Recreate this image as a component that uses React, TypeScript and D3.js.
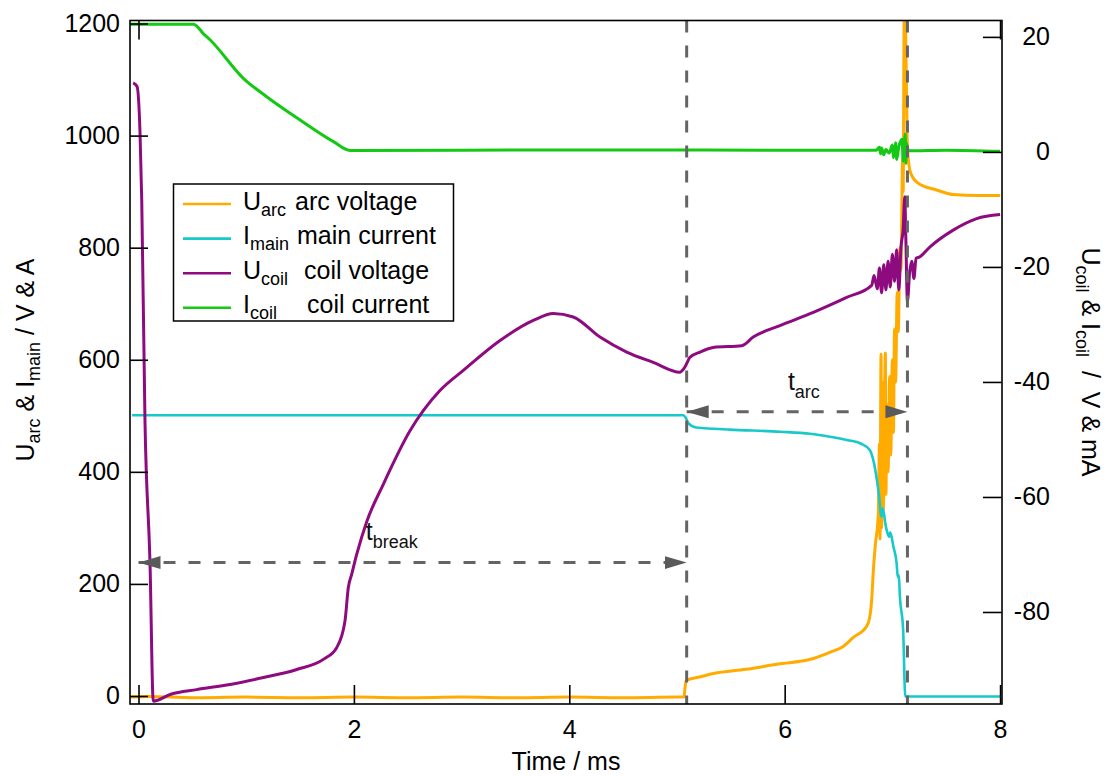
import * as d3 from "d3";
import { useEffect, useRef } from "react";

type Pt = [number, number];

// axis ranges and ticks
const timeDomain: [number, number] = [-0.079, 8.018];
const leftDomain: [number, number] = [-14.3, 1205.4];
const rightDomain: [number, number] = [-96.0, 22.85];
const timeTicks = [0, 2, 4, 6, 8];
const topTicks = [0, 8];
const leftTicks = [0, 200, 400, 600, 800, 1000, 1200];
const rightTicks = [20, 0, -20, -40, -60, -80];

// U_arc arc voltage / V (left axis)
const uArc: Pt[] = [
  [-0.07, -2], [0.1, -1], [0.5, -3], [1.0, -2], [1.5, -3], [2.0, -2], [2.5, -3],
  [3.0, -2], [3.5, -3], [4.0, -2], [4.5, -3], [5.0, -2], [5.065, -2], [5.075, 15],
  [5.085, 27], [5.1, 29], [5.21, 34], [5.34, 40], [5.64, 47.6], [5.94, 57],
  [6.24, 65.5], [6.42, 78], [6.54, 88], [6.64, 105], [6.76, 124], [6.79, 141],
  [6.81, 177], [6.82, 213], [6.84, 266], [6.87, 326], [6.88, 450], [6.885, 280],
  [6.895, 610], [6.9, 300], [6.91, 560], [6.915, 330], [6.935, 612], [6.94, 360],
  [6.95, 520], [6.96, 400], [6.975, 570], [6.985, 430], [7.0, 600], [7.01, 470],
  [7.02, 655], [7.03, 560], [7.045, 720], [7.055, 650], [7.07, 800], [7.08, 760],
  [7.095, 960], [7.1, 900], [7.11, 1210], [7.12, 1210], [7.13, 1100], [7.14, 975],
  [7.17, 933], [7.24, 915], [7.41, 903], [7.56, 895], [7.8, 893], [8.0, 893],
];

// I_main main current / A (left axis)
const iMain: Pt[] = [
  [-0.06, 501], [5.06, 501], [5.08, 497], [5.105, 487], [5.18, 479], [5.34, 477],
  [5.49, 475.4], [5.96, 471.6], [6.235, 468], [6.42, 462.7], [6.6, 456], [6.7, 451],
  [6.79, 439], [6.83, 415], [6.87, 367], [6.9, 320], [6.91, 335], [6.94, 302],
  [6.97, 284], [6.98, 292], [7.01, 266], [7.04, 236], [7.05, 212], [7.06, 216],
  [7.07, 177], [7.1, 118], [7.12, -1], [8.0, -1],
];

// U_coil coil voltage / V (right axis)
const uCoil: Pt[] = [
  [-0.05, 12.0], [-0.014, 11.4], [0.014, 3.3], [0.03, -8.4], [0.06, -46.7],
  [0.107, -71.6], [0.137, -95.5], [0.3, -94.3], [0.54, -93.5], [0.85, -92.6],
  [1.16, -91.4], [1.47, -90.0], [1.72, -88.2], [1.84, -86.2], [1.917, -81.6],
  [1.948, -75.8], [1.98, -73.4], [2.026, -70.0], [2.119, -64.3], [2.273, -57.8],
  [2.521, -48.5], [2.799, -41.5], [3.016, -38.0], [3.357, -32.8], [3.666, -29.3],
  [3.851, -28.1], [4.037, -28.7], [4.285, -32.2], [4.533, -34.8], [4.78, -36.6],
  [5.028, -38.3], [5.074, -37.4], [5.121, -35.7], [5.214, -34.8], [5.337, -34.0],
  [5.601, -33.7], [5.708, -32.2], [5.956, -30.2], [6.266, -27.9], [6.576, -25.3],
  [6.808, -23.2], [6.83, -21.5], [6.86, -23.8], [6.88, -20.2], [6.9, -24.5],
  [6.92, -19.6], [6.94, -24.0], [6.96, -19.0], [6.98, -23.5], [7.0, -17.8],
  [7.02, -22.5], [7.04, -17.0], [7.06, -24.0], [7.08, -16.5], [7.1, -13.5],
  [7.115, -7.8], [7.125, -15.0], [7.14, -26.0], [7.16, -21.0], [7.18, -19.0],
  [7.2, -22.0], [7.22, -18.5], [7.25, -18.3], [7.35, -16.5], [7.565, -13.6],
  [7.783, -11.6], [8.0, -10.9],
];

// I_coil coil current / mA (right axis)
const iCoil: Pt[] = [
  [-0.08, 22.2], [0.51, 22.2], [0.54, 21.9], [0.6, 20.6], [0.664, 19.5],
  [0.973, 12.8], [1.19, 9.6], [1.5, 5.55], [1.81, 1.78], [1.964, 0.25],
  [3.0, 0.3], [4.5, 0.35], [6.0, 0.3], [6.85, 0.3], [6.88, 0.8], [6.89, -0.3],
  [6.9, 0.7], [6.92, -0.5], [6.94, 0.4], [6.97, -0.2], [7.0, 1.2], [7.01, -1.0],
  [7.03, 1.6], [7.04, -1.3], [7.06, 0.9], [7.09, 2.2], [7.1, -1.6], [7.12, 3.1],
  [7.125, -2.0], [7.13, 1.5], [7.15, 0.2], [7.5, 0.3], [8.0, 0.1],
];

// annotation times and levels
const tBreakStart = 0;
const tBreakEnd = 5.09;
const tArcEnd = 7.14;
const breakLevel = 238;
const arcLevel = 507;

const legendItems = [
  { sym: "U", sub: "arc", text: "arc voltage", color: "#ffab00" },
  { sym: "I", sub: "main", text: "main current", color: "#17c9c9" },
  { sym: "U", sub: "coil", text: "coil voltage", color: "#8e0a7f" },
  { sym: "I", sub: "coil", text: "coil current", color: "#14c814" },
];

const FONT = "'Liberation Sans', Arial, Helvetica, sans-serif";

export default function App() {
  const svgRef = useRef<SVGSVGElement>(null);

  useEffect(() => {
    const svg = d3.select(svgRef.current);
    svg.selectAll("*").remove();

    const left = 130, right = 1002, top = 20.5, bottom = 704;
    const x = d3.scaleLinear().domain(timeDomain).range([left, right]);
    const yL = d3.scaleLinear().domain(leftDomain).range([bottom, top]);
    const yR = d3.scaleLinear().domain(rightDomain).range([bottom, top]);

    const defs = svg.append("defs");
    defs.append("clipPath").attr("id", "plotArea").append("rect")
      .attr("x", left).attr("y", top).attr("width", right - left).attr("height", bottom - top);
    defs.append("marker")
      .attr("id", "arrowHead")
      .attr("markerUnits", "userSpaceOnUse")
      .attr("viewBox", "0 -7 22 14")
      .attr("markerWidth", 22).attr("markerHeight", 14)
      .attr("refX", 22).attr("refY", 0)
      .attr("orient", "auto-start-reverse")
      .append("path").attr("d", "M0,-6.5L22,0L0,6.5Z").attr("fill", "#5a5a5a");

    const lineL = d3.line<Pt>().x((d) => x(d[0])).y((d) => yL(d[1])).curve(d3.curveMonotoneX);
    const lineR = d3.line<Pt>().x((d) => x(d[0])).y((d) => yR(d[1])).curve(d3.curveMonotoneX);

    const plot = svg.append("g").attr("clip-path", "url(#plotArea)");
    const series: [Pt[], d3.Line<Pt>, string, number][] = [
      [uArc, lineL, legendItems[0].color, 3],
      [iMain, lineL, legendItems[1].color, 2.6],
      [uCoil, lineR, legendItems[2].color, 3],
      [iCoil, lineR, legendItems[3].color, 3],
    ];
    series.forEach(([data, line, color, w]) => {
      plot.append("path")
        .datum(data)
        .attr("d", line)
        .attr("fill", "none")
        .attr("stroke", color)
        .attr("stroke-width", w)
        .attr("stroke-linejoin", "round");
    });

    // dashed markers for t_break and t_arc
    const ann = svg.append("g")
      .attr("stroke", "#646464").attr("stroke-width", 3).attr("stroke-dasharray", "12,13");
    [tBreakEnd, tArcEnd].forEach((t) => {
      ann.append("line")
        .attr("x1", x(t)).attr("x2", x(t)).attr("y1", top).attr("y2", bottom);
    });
    [[tBreakStart, tBreakEnd, breakLevel], [tBreakEnd, tArcEnd, arcLevel]].forEach(([a, b, lv]) => {
      ann.append("line")
        .attr("x1", x(a)).attr("x2", x(b)).attr("y1", yL(lv)).attr("y2", yL(lv))
        .attr("marker-start", "url(#arrowHead)").attr("marker-end", "url(#arrowHead)");
    });

    const label = (tx: number, ty: number, sub: string) => {
      const t = svg.append("text").attr("x", tx).attr("y", ty)
        .attr("font-family", FONT).attr("font-size", 25).attr("fill", "#111");
      t.append("tspan").text("t");
      t.append("tspan").attr("font-size", 18).attr("dy", 8).text(sub);
    };
    label(x(2.11), yL(278), "break");
    label(x(6.03), yL(546), "arc");

    // frame
    svg.append("rect")
      .attr("x", left).attr("y", top).attr("width", right - left).attr("height", bottom - top)
      .attr("fill", "none").attr("stroke", "#000").attr("stroke-width", 1.6);

    const styleAxis = (g: d3.Selection<SVGGElement, unknown, null, undefined>) => {
      g.select(".domain").remove();
      g.selectAll(".tick line").attr("stroke", "#000").attr("stroke-width", 1.6);
      g.selectAll(".tick text").attr("font-size", 25).attr("font-family", FONT).attr("fill", "#000");
    };

    svg.append("g").attr("transform", `translate(${left},0)`)
      .call(d3.axisLeft(yL).tickValues(leftTicks).tickSize(-18).tickPadding(10).tickFormat((d) => String(d)))
      .call(styleAxis);

    svg.append("g").attr("transform", `translate(0,${bottom})`)
      .call(d3.axisBottom(x).tickValues(timeTicks).tickSize(-19).tickPadding(16).tickFormat((d) => String(d)))
      .call(styleAxis);

    svg.append("g").attr("transform", `translate(0,${top})`)
      .call(d3.axisTop(x).tickValues(topTicks).tickSize(-19).tickFormat(() => ""))
      .call(styleAxis);

    const rAxis = svg.append("g").attr("transform", `translate(${right},0)`)
      .call(d3.axisRight(yR).tickValues(rightTicks).tickSize(-19).tickPadding(48).tickFormat((d) => String(d)))
      .call(styleAxis);
    rAxis.selectAll(".tick text").attr("text-anchor", "end");

    // axis titles
    const lt = svg.append("text")
      .attr("transform", "translate(33.5,360) rotate(-90)")
      .attr("text-anchor", "middle").attr("font-family", FONT).attr("font-size", 25);
    lt.append("tspan").text("U");
    lt.append("tspan").attr("font-size", 18).attr("dy", 6).text("arc");
    lt.append("tspan").attr("dy", -6).text(" & I");
    lt.append("tspan").attr("font-size", 18).attr("dy", 6).text("main");
    lt.append("tspan").attr("dy", -6).text(" / V & A");

    const rt = svg.append("text")
      .attr("transform", "translate(1082,362) rotate(90)")
      .attr("text-anchor", "middle").attr("font-family", FONT).attr("font-size", 25)
      .attr("xml:space", "preserve");
    rt.append("tspan").text("U");
    rt.append("tspan").attr("font-size", 18).attr("dy", 6).text("coil");
    rt.append("tspan").attr("dy", -6).text(" & I");
    rt.append("tspan").attr("font-size", 18).attr("dy", 6).text("coil");
    rt.append("tspan").attr("dy", -6).text("  /  V & mA");

    svg.append("text")
      .attr("x", 566).attr("y", 770)
      .attr("text-anchor", "middle").attr("font-family", FONT).attr("font-size", 25)
      .text("Time / ms");

    // legend
    const lg = svg.append("g");
    lg.append("rect")
      .attr("x", 173.5).attr("y", 184).attr("width", 280).attr("height", 137)
      .attr("fill", "#fff").attr("stroke", "#000").attr("stroke-width", 1.5);
    const descX = [295, 297, 304, 307];
    legendItems.forEach((it, i) => {
      const ly = 204 + i * 34.6;
      lg.append("line")
        .attr("x1", 183).attr("x2", 231).attr("y1", ly).attr("y2", ly)
        .attr("stroke", it.color).attr("stroke-width", 2.6);
      const t = lg.append("text")
        .attr("x", 243).attr("y", ly + 5.5)
        .attr("font-family", FONT).attr("font-size", 25);
      t.append("tspan").text(it.sym);
      t.append("tspan").attr("font-size", 18).attr("dy", 6).text(it.sub);
      t.append("tspan").attr("x", descX[i]).attr("dy", -6).text(it.text);
    });
  }, []);

  return (
    <svg
      ref={svgRef}
      width={1113}
      height={776}
      style={{ position: "absolute", left: 0, top: 0, background: "#fff" }}
    />
  );
}
